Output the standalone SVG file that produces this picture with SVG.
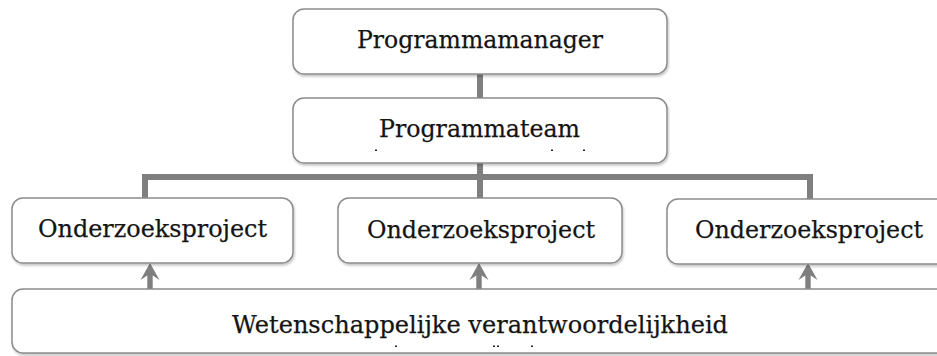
<svg xmlns="http://www.w3.org/2000/svg" width="937" height="356" viewBox="0 0 937 356">
  <defs>
    <filter id="shadow" x="-5%" y="-10%" width="110%" height="130%">
      <feDropShadow dx="1" dy="2" stdDeviation="1" flood-color="#000" flood-opacity="0.22"/>
    </filter>
    <path id="up-arrow" d="M0,-27 L9.5,-10 L2.7,-14.5 L2.7,0 L-2.7,0 L-2.7,-14.5 L-9.5,-10 Z"/>
  </defs>
  <style>
    .box { fill: #fff; stroke: #8c8c8c; stroke-width: 1.5; filter: url(#shadow); }
    .label { font-family: "DejaVu Serif", "Liberation Serif", serif; font-size: 25px; fill: #141414; stroke: #141414; stroke-width: 0.25; text-anchor: middle; }
    .link { stroke: #7f7f7f; stroke-width: 6; fill: none; stroke-linejoin: miter; stroke-linecap: butt; }
    .arrow { fill: #7f7f7f; }
    .tick { fill: #222; }
  </style>
  <rect width="937" height="356" fill="#fff"/>

  <!-- connectors -->
  <g id="connectors">
    <line class="link" x1="480" y1="74" x2="480" y2="98"/>
    <line class="link" x1="480" y1="163" x2="480" y2="198"/>
    <polyline class="link" points="145,199 145,177 810,177 810,199"/>
    <use href="#up-arrow" class="arrow" x="150" y="290"/>
    <use href="#up-arrow" class="arrow" x="479" y="290"/>
    <use href="#up-arrow" class="arrow" x="808" y="290"/>
  </g>

  <g id="programmamanager">
    <rect class="box" x="293" y="9" width="374" height="65" rx="11"/>
    <text class="label" x="480" y="48" textLength="246" lengthAdjust="spacingAndGlyphs">Programmamanager</text>
  </g>

  <g id="programmateam">
    <rect class="box" x="293" y="98" width="374" height="65" rx="11"/>
    <text class="label" x="479.5" y="137" textLength="201" lengthAdjust="spacingAndGlyphs">Programmateam</text>
    <rect class="tick" x="375" y="149.5" width="2" height="1.5"/>
    <rect class="tick" x="551" y="149.5" width="2" height="1.5"/>
    <rect class="tick" x="583" y="149.5" width="2" height="1.5"/>
  </g>

  <g id="onderzoeksproject-1">
    <rect class="box" x="12" y="198" width="281" height="65" rx="11"/>
    <text class="label" x="152.5" y="237" textLength="229" lengthAdjust="spacingAndGlyphs">Onderzoeksproject</text>
  </g>

  <g id="onderzoeksproject-2">
    <rect class="box" x="338" y="198" width="284" height="65" rx="11"/>
    <text class="label" x="481" y="238" textLength="228" lengthAdjust="spacingAndGlyphs">Onderzoeksproject</text>
  </g>

  <g id="onderzoeksproject-3">
    <rect class="box" x="667" y="199" width="300" height="65" rx="11"/>
    <text class="label" x="809" y="238" textLength="228" lengthAdjust="spacingAndGlyphs">Onderzoeksproject</text>
  </g>

  <g id="wetenschappelijke-verantwoordelijkheid">
    <rect class="box" x="12" y="289" width="960" height="64" rx="11"/>
    <text class="label" x="480" y="333" textLength="496" lengthAdjust="spacingAndGlyphs">Wetenschappelijke verantwoordelijkheid</text>
    <rect class="tick" x="395" y="345.5" width="2" height="1.5"/>
    <rect class="tick" x="493" y="345.5" width="2" height="1.5"/>
    <rect class="tick" x="497" y="345.5" width="2" height="1.5"/>
    <rect class="tick" x="531" y="345.5" width="2" height="1.5"/>
  </g>
</svg>
